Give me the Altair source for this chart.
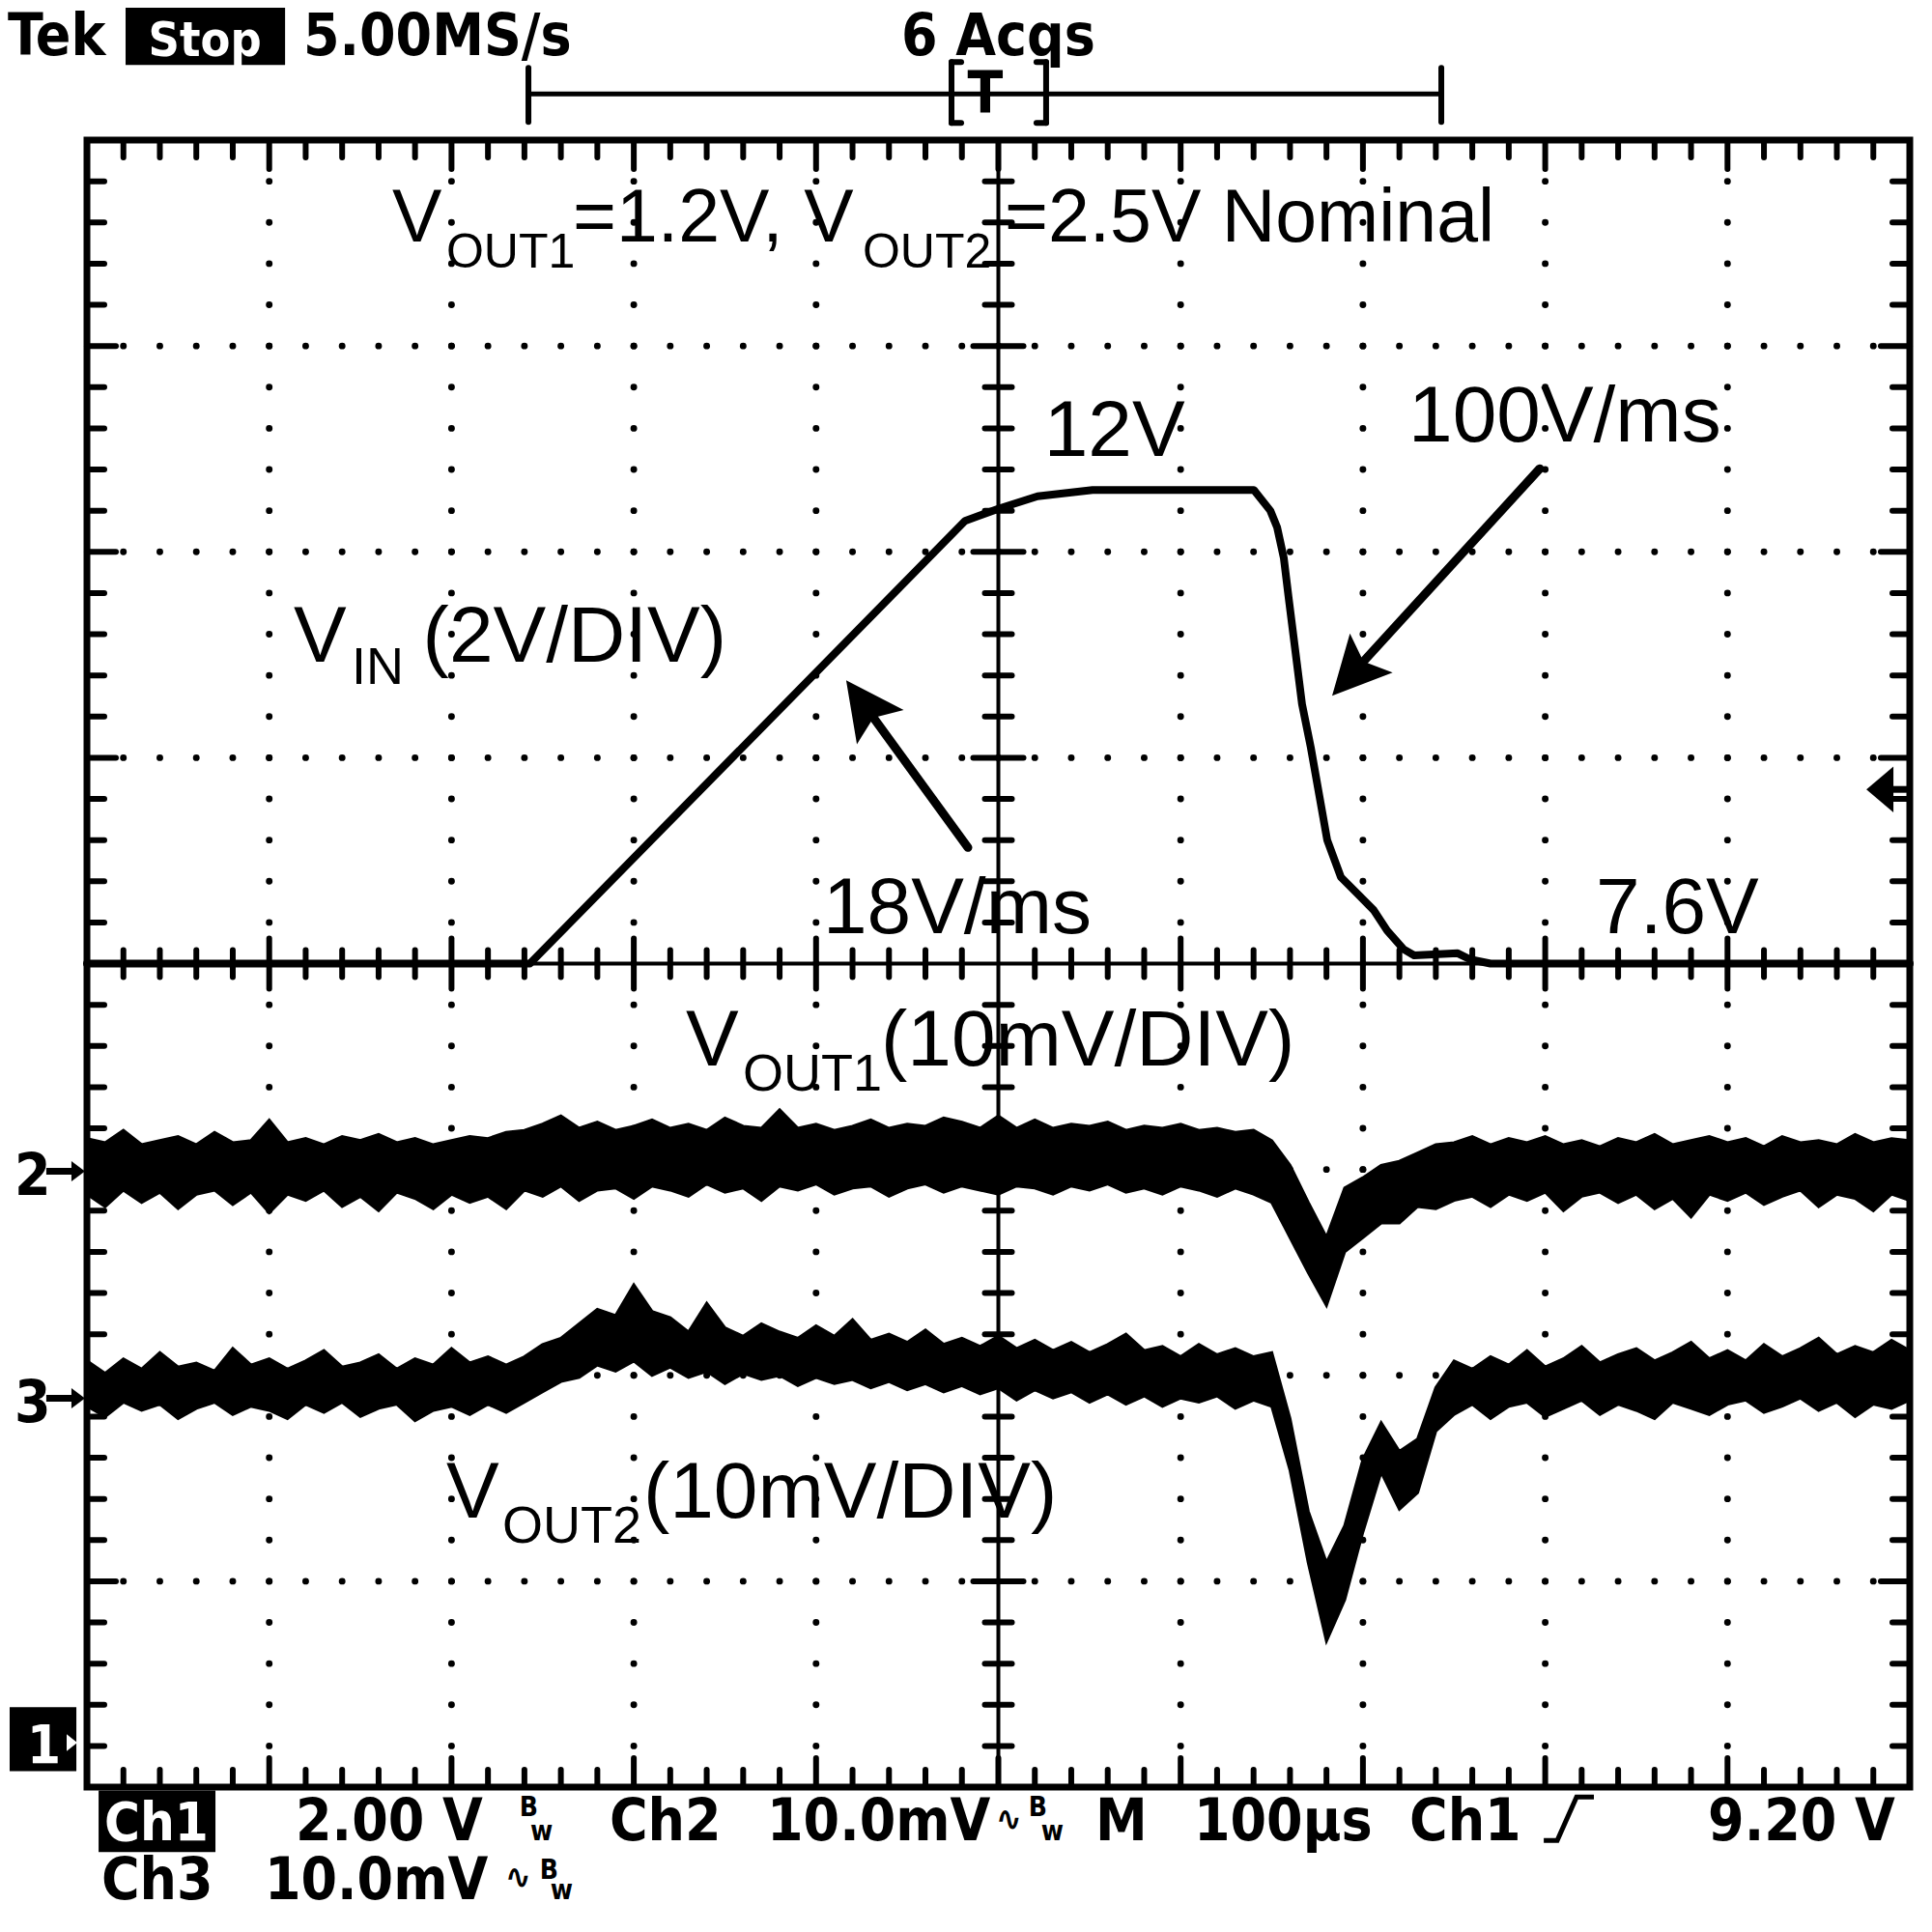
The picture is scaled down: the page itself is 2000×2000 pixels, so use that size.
import altair as alt
import pandas as pd

# ---------------- data ----------------
# time axis (microseconds, 100 us/div, trigger at 0)
T_US = list(range(-500, 501, 10))

# Ch1: V_IN (volts, 2 V/div, screen centre = 7.6 V)
VIN_T = [-500, -257, -18.3, 0.3, 21.5, 51.7, 140.2, 149.2, 152.9, 156.6, 159.2,
         162.9, 166.6, 171.4, 176.2, 180.4, 187.9, 196.9, 205.9, 213.3, 222.3,
         228.1, 252.0, 258.9, 270.0, 500]
VIN_V = [7.6, 7.6, 11.9, 12.02, 12.14, 12.2, 12.2, 12.0, 11.84, 11.54, 11.16,
         10.64, 10.12, 9.7, 9.22, 8.8, 8.44, 8.28, 8.12, 7.92, 7.74,
         7.68, 7.7, 7.64, 7.6, 7.6]
VIN_CENTER = 7.6
VIN_PER_DIV = 2.0

# Ch2: V_OUT1 noise band (mV, AC coupled, 10 mV/div) upper / lower envelope
VOUT1_HI = [1.5, 1.3, 1.9, 1.2, 1.4, 1.6, 1.2, 1.8, 1.3, 1.4,
            2.4, 1.3, 1.5, 1.2, 1.6, 1.4, 1.7, 1.3, 1.5, 1.2,
            1.4, 1.6, 1.5, 1.8, 1.9, 2.2, 2.6, 2.0, 2.3, 1.9,
            2.1, 2.4, 2.0, 2.2, 1.9, 2.5, 2.1, 2.0, 2.9, 2.0,
            2.2, 1.9, 2.1, 2.4, 2.0, 2.2, 2.1, 2.5, 2.3, 2.0,
            2.6, 2.0, 2.4, 2.0, 2.2, 2.1, 2.3, 1.9, 2.1, 2.0,
            2.2, 1.9, 2.0, 1.8, 1.9, 1.4, 0.2, -1.6, -3.3, -0.9,
            -0.4, 0.2, 0.4, 0.8, 1.2, 1.3, 1.6, 1.2, 1.5, 1.3,
            1.6, 1.2, 1.4, 1.1, 1.5, 1.3, 1.7, 1.2, 1.4, 1.6,
            1.3, 1.5, 1.1, 1.6, 1.3, 1.4, 1.2, 1.7, 1.3, 1.5,
            1.4]
VOUT1_LO = [-1.2, -1.8, -1.0, -1.6, -1.1, -1.9, -1.2, -1.0, -1.7, -1.1,
            -2.1, -1.2, -1.5, -1.0, -1.8, -1.3, -2.0, -1.1, -1.4, -1.9,
            -1.2, -1.6, -1.3, -1.9, -1.0, -1.3, -0.8, -1.5, -1.0, -0.9,
            -1.4, -0.8, -1.0, -1.3, -0.7, -1.1, -0.9, -1.5, -0.8, -1.0,
            -0.7, -1.2, -0.9, -0.8, -1.3, -0.9, -0.7, -1.1, -0.8, -1.0,
            -1.2, -0.8, -0.9, -1.2, -0.8, -1.0, -0.7, -1.1, -0.9, -1.2,
            -0.8, -1.0, -1.3, -0.9, -1.2, -1.6, -3.3, -5.0, -6.6, -4.0,
            -3.3, -2.6, -2.6, -1.8, -1.9, -1.5, -1.3, -1.8, -1.2, -1.5,
            -1.1, -2.0, -1.3, -1.1, -1.6, -1.2, -1.9, -1.4, -2.3, -1.2,
            -1.5, -1.1, -1.7, -1.3, -1.0, -1.8, -1.2, -1.4, -2.0, -1.2,
            -1.5]

# Ch3: V_OUT2 noise band (mV, AC coupled, 10 mV/div)
VOUT2_HI = [1.8, 1.2, 1.9, 1.4, 2.2, 1.5, 1.7, 1.3, 2.4, 1.6,
            1.9, 1.4, 1.8, 2.3, 1.5, 1.7, 2.1, 1.4, 1.9, 1.6,
            2.4, 1.7, 2.0, 1.6, 2.0, 2.6, 2.9, 3.6, 4.3, 4.0,
            5.5, 4.2, 3.9, 3.2, 4.6, 3.4, 3.0, 3.6, 3.2, 2.9,
            3.5, 3.0, 3.8, 2.8, 3.1, 2.7, 3.3, 2.6, 2.9, 2.5,
            3.0, 2.4, 2.8, 2.3, 2.7, 2.2, 2.6, 3.1, 2.3, 2.5,
            2.0, 2.6, 2.1, 2.4, 2.0, 2.2, -1.0, -5.5, -8.0, -6.2,
            -3.0, -1.2, -2.6, -2.0, 0.5, 1.8, 1.4, 2.0, 1.6, 2.3,
            1.5, 1.9, 2.5, 1.7, 2.1, 2.4, 1.8, 2.2, 2.7, 1.9,
            2.3, 1.8, 2.6, 2.0, 2.4, 2.9, 2.1, 2.5, 2.2, 2.8,
            2.3]
VOUT2_LO = [-0.4, -0.9, -0.2, -0.6, -0.3, -1.0, -0.5, -0.2, -0.8, -0.4,
            -0.6, -1.0, -0.3, -0.7, -0.2, -0.9, -0.5, -0.3, -1.1, -0.6,
            -0.4, -0.8, -0.3, -0.7, -0.2, 0.3, 0.8, 1.0, 1.6, 1.3,
            1.8, 1.1, 1.5, 1.0, 1.3, 0.7, 1.2, 0.9, 1.1, 0.6,
            1.0, 0.7, 0.9, 0.5, 0.8, 0.4, 0.7, 0.3, 0.6, 0.2,
            0.5, -0.1, 0.4, 0.0, 0.3, -0.2, 0.2, -0.3, 0.1, -0.4,
            0.0, -0.2, 0.1, -0.5, -0.1, -0.4, -3.5, -8.0, -11.8, -9.8,
            -6.5, -3.6, -5.4, -4.6, -1.6, -0.8, -0.3, -1.0, -0.4, -0.2,
            -0.9, -0.5, -0.1, -0.8, -0.3, -0.6, -1.0, -0.2, -0.5, -0.8,
            -0.3, -0.1, -0.7, -0.4, 0.0, -0.6, -0.2, -0.9, -0.3, -0.5,
            -0.1]
MV_PER_DIV = 10.0
CH2_REF = -1.0    # divisions from centre
CH3_REF = -2.11

# ---------------- scales / helpers ----------------
W, H = 1887, 1705
PX_T = 1000.0 / W      # us per pixel
PX_D = 8.0 / H         # div per pixel
FONT_SCOPE = "DejaVu Sans Condensed, Liberation Sans Narrow, DejaVu Sans, sans-serif"
FONT_ANN = "Liberation Sans, Arial, sans-serif"

xs = alt.Scale(domain=[-500, 500], nice=False, zero=False)
ys = alt.Scale(domain=[-4, 4], nice=False, zero=False)
X = alt.X("t:Q", scale=xs, axis=None)
Y = alt.Y("d:Q", scale=ys, axis=None)


def rules(rows, width, color="black", cap="round"):
    df = pd.DataFrame(rows, columns=["t", "t2", "d", "d2"])
    return alt.Chart(df).mark_rule(color=color, strokeWidth=width, strokeCap=cap).encode(
        x=X, x2="t2:Q", y=Y, y2="d2:Q")


def rects(rows, color="black"):
    df = pd.DataFrame(rows, columns=["t", "t2", "d", "d2"])
    return alt.Chart(df).mark_rect(color=color, opacity=1).encode(
        x=X, x2="t2:Q", y=Y, y2="d2:Q")


def texts(items, size, font, weight="normal", color="black", align="left"):
    df = pd.DataFrame(items, columns=["txt", "t", "d"])
    return alt.Chart(df).mark_text(align=align, baseline="alphabetic", font=font,
                                   fontSize=size, fontWeight=weight, color=color).encode(
        x=X, y=Y, text="txt:N")


def shapes(items, path, size, color="black"):
    df = pd.DataFrame(items, columns=["t", "d", "ang"])
    return alt.Chart(df).mark_point(shape=path, size=size, filled=True, color=color,
                                    opacity=1, strokeWidth=0).encode(
        x=X, y=Y, angle=alt.Angle("ang:Q", scale=None))


# ---------------- graticule ----------------
MINOR_T = list(range(-480, 481, 20))
MINOR_D = [round(k * 0.2, 1) for k in range(-19, 20)]
MAJOR_T = [-400, -300, -200, -100, 100, 200, 300, 400]
MAJOR_D = [-3, -2, -1, 1, 2, 3]

dots = [(t, d) for t in MAJOR_T for d in MINOR_D] + [(t, d) for d in MAJOR_D for t in MINOR_T]
dot_layer = alt.Chart(pd.DataFrame(dots, columns=["t", "d"])).mark_circle(
    size=48, color="black", opacity=1).encode(x=X, y=Y)

tick_rows = []
for t in MINOR_T:
    major = t % 100 == 0
    L = (30 if major else 18) * PX_D
    tick_rows.append((t, t, 4, 4 - L))
    tick_rows.append((t, t, -4, -4 + L))
    if t != 0:
        c = (26 if major else 14) * PX_D
        tick_rows.append((t, t, -c, c))
for d in MINOR_D:
    major = abs(d - round(d)) < 1e-9
    L = (30 if major else 18) * PX_T
    tick_rows.append((-500, -500 + L, d, d))
    tick_rows.append((500, 500 - L, d, d))
    if d != 0:
        c = (26 if major else 14) * PX_T
        tick_rows.append((-c, c, d, d))
tick_layer = rules(tick_rows, 6)
center_layer = rules([(-500, 500, 0, 0), (0, 0, -4, 4)], 4, cap="butt")

# ---------------- traces ----------------
vin_df = pd.DataFrame({"t": VIN_T, "d": [(v - VIN_CENTER) / VIN_PER_DIV for v in VIN_V]})
vin_layer = alt.Chart(vin_df).mark_line(color="black", strokeWidth=8, strokeJoin="round",
                                        strokeCap="round").encode(x=X, y=Y)

v1_df = pd.DataFrame({"t": T_US,
                      "d": [CH2_REF + v / MV_PER_DIV for v in VOUT1_HI],
                      "d2": [CH2_REF + v / MV_PER_DIV for v in VOUT1_LO]})
v2_df = pd.DataFrame({"t": T_US,
                      "d": [CH3_REF + v / MV_PER_DIV for v in VOUT2_HI],
                      "d2": [CH3_REF + v / MV_PER_DIV for v in VOUT2_LO]})
v1_layer = alt.Chart(v1_df).mark_area(color="black", opacity=1, stroke="black", strokeWidth=3).encode(
    x=X, y=Y, y2="d2:Q")
v2_layer = alt.Chart(v2_df).mark_area(color="black", opacity=1, stroke="black", strokeWidth=3).encode(
    x=X, y=Y, y2="d2:Q")

# ---------------- annotations ----------------
title_main = texts([("V", -332.5, 3.506), ("=1.2V, V", -233.4, 3.506), ("=2.5V Nominal", 3.4, 3.506)],
                   77, FONT_ANN)
title_sub = texts([("OUT1", -302.9, 3.380), ("OUT2", -74.5, 3.380)], 50, FONT_ANN)
labels = texts([("12V", 25, 2.464), ("100V/ms", 225, 2.535),
                ("V", -386.6, 1.465), ("(2V/DIV)", -315.8, 1.465),
                ("18V/ms", -96.2, 0.147), ("7.6V", 327.8, 0.147),
                ("V", -171.4, -0.496), ("(10mV/DIV)", -64.4, -0.496),
                ("V", -302.9, -2.692), ("(10mV/DIV)", -194.8, -2.692)], 82, FONT_ANN)
label_sub = texts([("IN", -354.8, 1.357), ("OUT1", -140.2, -0.618), ("OUT2", -272.1, -2.814)],
                  54, FONT_ANN)

ARROW_PATH = "M0,0 L0.5,1 L0,0.8 L-0.5,1 Z"
arrow_shafts = rules([(-16.7, -69.4, 0.564, 1.205), (297, 199.2, 2.404, 1.457)], 9)
arrow_heads = shapes([(-83.5, 1.376, 323.9), (183.1, 1.301, 222.5)], ARROW_PATH, 14400)

# ---------------- scope screen chrome ----------------
scope_txt = texts([("Tek", -543.5, 4.415), ("5.00MS/s", -381.3, 4.415), ("6 Acqs", -53.3, 4.415),
                   ("2.00 V", -385.5, -4.259), ("Ch2", -213.3, -4.259), ("10.0mV", -126.9, -4.259),
                   ("M", 53.3, -4.259), ("100\u03bcs", 107.3, -4.259), ("Ch1", 225.5, -4.259),
                   ("9.20 V", 389.3, -4.259), ("Ch3", -492.1, -4.545), ("10.0mV", -402.5, -4.545),
                   ("2", -539.7, -1.125), ("3", -539.7, -2.228)],
                  60, FONT_SCOPE, weight="bold")
trig_T = texts([("T", -7.2, 4.130)], 60, FONT_SCOPE, weight="bold", align="center")
black_boxes = rects([(-478.8, -391.3, 4.365, 4.660),
                     (-493.6, -429.5, -4.016, -4.316),
                     (-542.4, -505.8, -3.612, -3.922)])
white_txt = texts([("Ch1", -490.5, -4.259), ("1", -532.9, -3.883)], 56, FONT_SCOPE,
                  weight="bold", color="white")
stop_txt = texts([("Stop", -435.3, 4.410), ], 50, FONT_SCOPE, weight="bold", color="white", align="center")
tilde = texts([("\u223f", -1.5, -4.212), ("\u223f", -270.7, -4.494)], 36, FONT_SCOPE, weight="bold")
bw_B = texts([("B", -262.7, -4.142), ("B", 16.6, -4.142), ("B", -251.6, -4.447)], 28, FONT_SCOPE, weight="bold")
bw_w = texts([("w", -256.8, -4.259), ("w", 23.5, -4.259), ("w", -245.7, -4.545)], 28, FONT_SCOPE, weight="bold")

record_bar = rules([(-257.8, 243.0, 4.224, 4.224)], 5, cap="butt")
record_caps = rules([(-257.8, -257.8, 4.088, 4.351), (243.0, 243.0, 4.088, 4.351),
                     (-25.7, -25.7, 4.083, 4.379), (-25.7, -20.4, 4.379, 4.379), (-25.7, -20.4, 4.083, 4.083),
                     (26.2, 26.2, 4.083, 4.379), (26.2, 20.9, 4.379, 4.379), (26.2, 20.9, 4.083, 4.083)],
                    6)

ch_arrow_shafts = rules([(-522.3, -505.0, -1.009, -1.009), (-522.3, -505.0, -2.111, -2.111),
                         (487.0, 500.0, 0.846, 0.846)], 7, cap="butt")
ch_arrow_heads = shapes([(-501.1, -1.009, 0), (-501.1, -2.111, 0)], "M0,0 L-1,-0.75 L-1,0.75 Z", 784)
gnd_head = shapes([(-505.3, -3.784, 0)], "M0,0 L-1,-0.8 L-1,0.8 Z", 484, color="white")
trig_head = shapes([(476.2, 0.846, 0)], "M0,0 L1,-0.85 L1,0.85 Z", 3136)

slope_df = pd.DataFrame({"t": [299.2, 306.6, 317.2, 326.7], "d": [-4.259, -4.259, -4.048, -4.048]})
slope_sym = alt.Chart(slope_df).mark_line(color="black", strokeWidth=5).encode(x=X, y=Y)

chart = alt.layer(
    dot_layer, tick_layer, center_layer,
    v1_layer, v2_layer, vin_layer,
    title_main, title_sub, labels, label_sub, arrow_shafts, arrow_heads,
    black_boxes, scope_txt, trig_T, white_txt, stop_txt, tilde, bw_B, bw_w,
    record_bar, record_caps, ch_arrow_shafts, ch_arrow_heads, gnd_head, trig_head, slope_sym,
).properties(
    width=W, height=H,
    padding={"left": 82, "top": 137, "right": 15, "bottom": 142},
    autosize=alt.AutoSizeParams(type="none"),
    background="white",
).configure_view(stroke="black", strokeWidth=7)

chart.save("out.html", embed_options={"renderer": "svg", "actions": False})
